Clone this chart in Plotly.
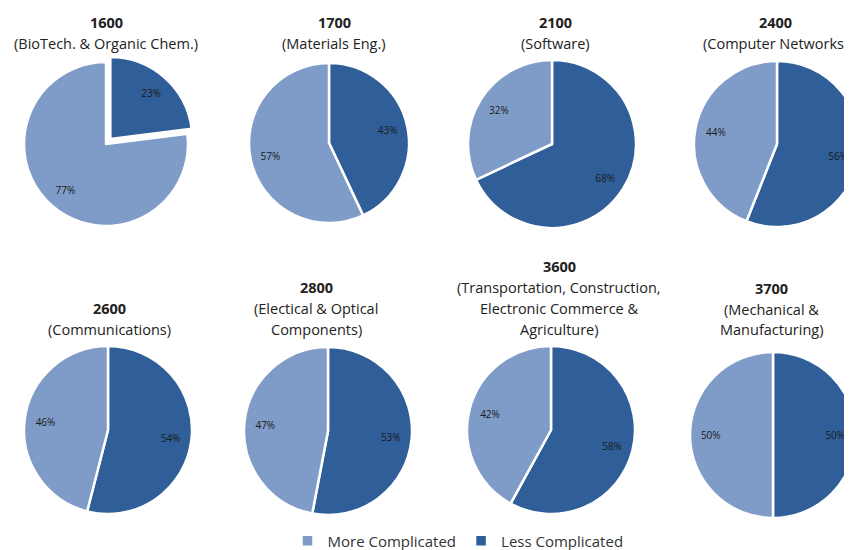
import plotly.graph_objects as go

# the page body adds an 8px margin, so page pixel (X, Y) = figure pixel (X-8, Y-8)
OX, OY = 8, 8
W, H = 852, 542

codes = ["1600", "1700", "2100", "2400", "2600", "2800", "3600", "3700"]
subtitles = [
    ["(BioTech. & Organic Chem.)"],
    ["(Materials Eng.)"],
    ["(Software)"],
    ["(Computer Networks)"],
    ["(Communications)"],
    ["(Electical & Optical", "Components)"],
    ["(Transportation, Construction,", "Electronic Commerce &", "Agriculture)"],
    ["(Mechanical &", "Manufacturing)"],
]
labels = ["Less Complicated", "More Complicated"]
less_complicated = [23, 43, 68, 56, 54, 53, 58, 50]
more_complicated = [77, 57, 32, 44, 46, 47, 42, 50]

LIGHT = "#7F9BC7"
DARK = "#2F5E98"
FONT = "Open Sans, Liberation Sans, sans-serif"

# layout in page pixels: pie centres / radii, title centre x and last-line y
centers = [(106, 144), (329, 143), (552, 144), (777, 144),
           (108, 430), (328, 431), (551, 430), (773, 435)]
radii = [82, 80, 84, 83, 84, 84, 84, 83]
pulls = [0.08, 0, 0, 0, 0, 0, 0, 0]
title_x = [106, 334, 555, 775, 109, 316, 559, 771]
title_last_y = [44, 44, 44, 44, 329, 329, 329, 330]
LINE = 21


def fx(X):
    return (X - OX) / W


def fy(Y):
    return 1 - (Y - OY) / H


def dom(cx, cy, r, pull):
    R = r * (1 + pull)
    x0 = max(0.0, fx(cx - R))
    x1 = min(1.0, fx(cx + R))
    y0 = max(0.0, fy(cy + R))
    y1 = min(1.0, fy(cy - R))
    return dict(x=[x0, x1], y=[y0, y1])


fig = go.Figure()
annotations = []
for i in range(8):
    cx, cy = centers[i]
    d = dom(cx, cy, radii[i], pulls[i])
    vals = [less_complicated[i], more_complicated[i]]
    common = dict(
        labels=labels, values=vals, sort=False, direction="clockwise",
        rotation=0, pull=[pulls[i], 0], domain=d,
    )
    # full pie body
    fig.add_trace(go.Pie(
        **common, textinfo="none", hoverinfo="label+percent",
        marker=dict(colors=[DARK, LIGHT], line=dict(color="white", width=2.5)),
        showlegend=(i == 0),
    ))
    # transparent ring that only carries the percentage labels
    fig.add_trace(go.Pie(
        **common, hole=0.5,
        marker=dict(colors=["rgba(0,0,0,0)", "rgba(0,0,0,0)"],
                    line=dict(width=0)),
        texttemplate="%{percent:.0%}",
        textposition="inside",
        insidetextorientation="horizontal",
        textfont=dict(family=FONT, size=10, color="#1b1b1b"),
        hoverinfo="skip",
        showlegend=False,
    ))
    lines = ["<b>" + codes[i] + "</b>"] + subtitles[i]
    n = len(lines)
    for k, t in enumerate(lines):
        yc = title_last_y[i] - (n - 1 - k) * LINE
        annotations.append(dict(
            x=fx(title_x[i]), y=fy(yc), xref="paper", yref="paper",
            xanchor="center", yanchor="middle", showarrow=False,
            text=t, font=dict(family=FONT, size=14.5, color="#222222"),
        ))

fig.update_layout(
    width=W, height=H,
    margin=dict(l=0, r=0, t=0, b=0, autoexpand=False),
    paper_bgcolor="white",
    plot_bgcolor="white",
    annotations=annotations,
    legend=dict(
        orientation="h", x=fx(458), xanchor="center", y=fy(541),
        yanchor="middle", itemwidth=30,
        font=dict(family=FONT, size=15, color="#333333"),
        traceorder="reversed",
    ),
)

fig.write_html("out.html")
